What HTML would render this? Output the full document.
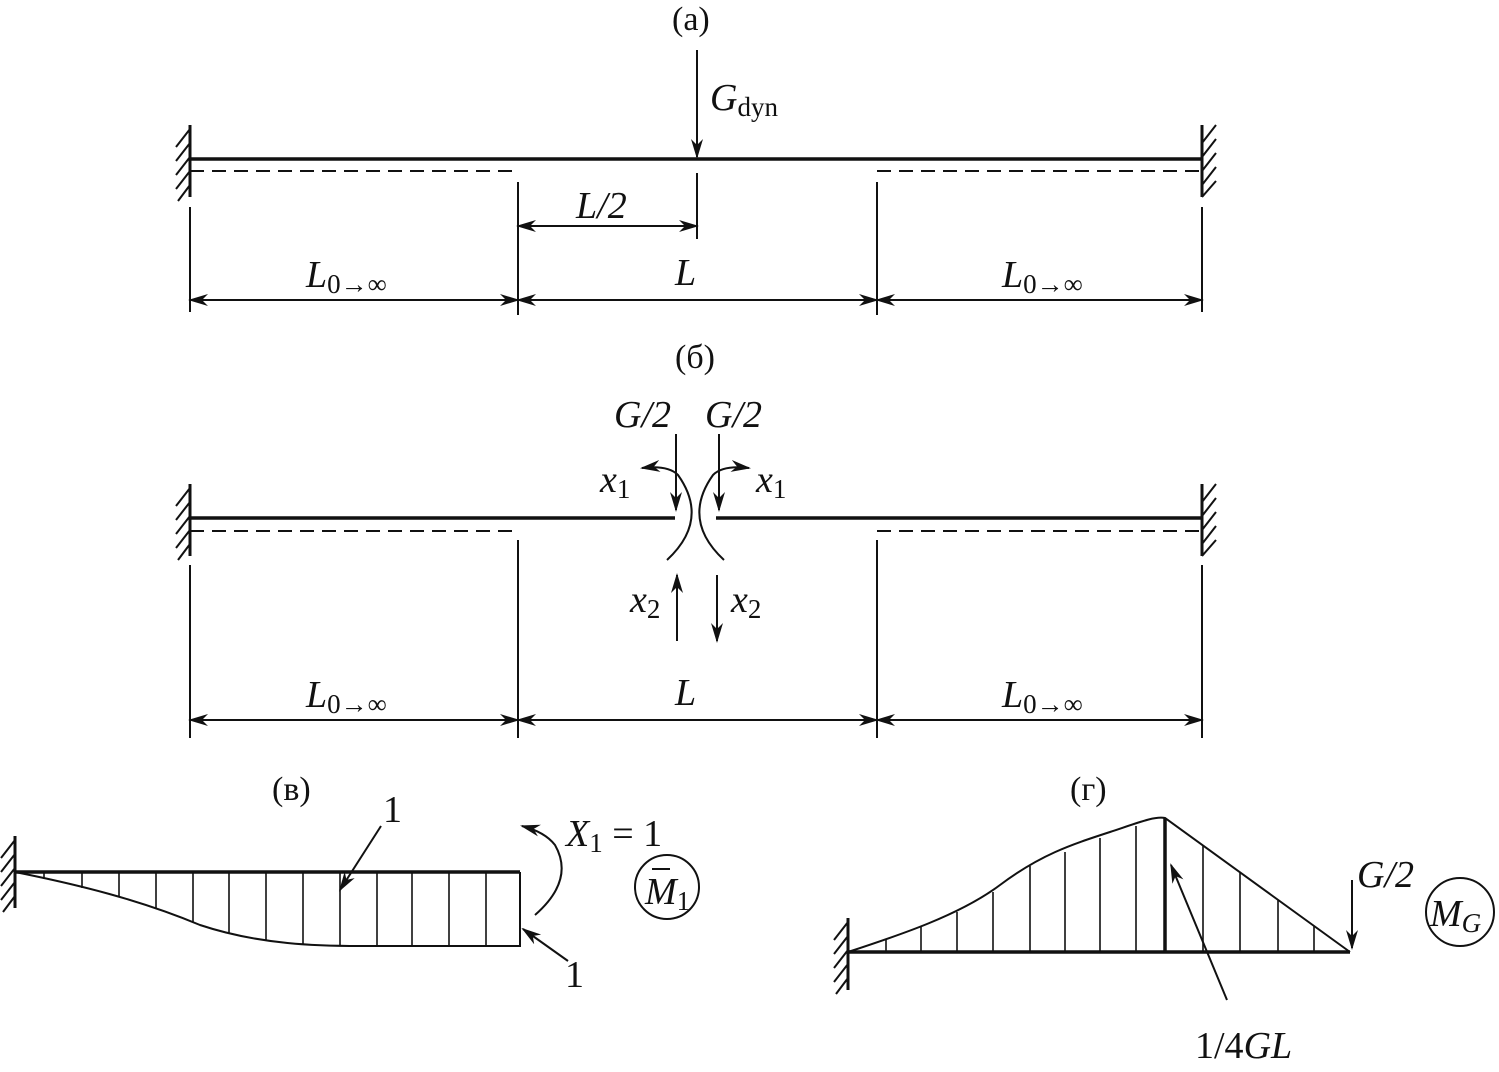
<!DOCTYPE html>
<html><head><style>body{margin:0;background:#fff}svg{display:block}
text{font-family:"Liberation Serif",serif;fill:#111}
.i{font-style:italic}</style></head><body>
<svg width="1499" height="1072" viewBox="0 0 1499 1072" xmlns="http://www.w3.org/2000/svg">
<defs>
<marker id="a" markerWidth="20" markerHeight="12" refX="18" refY="6" orient="auto-start-reverse" markerUnits="userSpaceOnUse"><path d="M0,0 L20,6 L0,12 L6,6 Z" fill="#111"/></marker>
<g id="wallL"><line x1="0" y1="0" x2="0" y2="72" stroke="#111" stroke-width="3"/>
<g stroke="#111" stroke-width="2"><line x1="0" y1="4" x2="-14" y2="22"/><line x1="0" y1="18" x2="-14" y2="36"/><line x1="0" y1="32" x2="-14" y2="50"/><line x1="0" y1="46" x2="-14" y2="64"/><line x1="0" y1="60" x2="-12" y2="76"/></g></g>
<g id="wallR"><line x1="0" y1="0" x2="0" y2="72" stroke="#111" stroke-width="3"/>
<g stroke="#111" stroke-width="2"><line x1="0" y1="18" x2="14" y2="0"/><line x1="0" y1="32" x2="14" y2="14"/><line x1="0" y1="46" x2="14" y2="28"/><line x1="0" y1="60" x2="14" y2="42"/><line x1="0" y1="72" x2="14" y2="56"/></g></g>
</defs>
<g stroke="#111" fill="none">
<use href="#wallL" x="190" y="125"/><use href="#wallR" x="1202" y="125"/>
<line x1="190" y1="159" x2="1202" y2="159" stroke-width="3.5"/>
<line x1="190" y1="171" x2="520" y2="171" stroke-width="2" stroke-dasharray="14,8"/>
<line x1="877" y1="171" x2="1202" y2="171" stroke-width="2" stroke-dasharray="14,8"/>
<line x1="697" y1="50" x2="697" y2="157" stroke-width="2" marker-end="url(#a)"/>
<line x1="697" y1="173" x2="697" y2="239" stroke-width="2"/>
<line x1="190" y1="207" x2="190" y2="312" stroke-width="2"/>
<line x1="518" y1="182" x2="518" y2="315" stroke-width="2"/>
<line x1="877" y1="182" x2="877" y2="315" stroke-width="2"/>
<line x1="1202" y1="207" x2="1202" y2="312" stroke-width="2"/>
<line x1="518" y1="226" x2="697" y2="226" stroke-width="2" marker-start="url(#a)" marker-end="url(#a)"/>
<line x1="190" y1="300" x2="518" y2="300" stroke-width="2" marker-start="url(#a)" marker-end="url(#a)"/>
<line x1="518" y1="300" x2="877" y2="300" stroke-width="2" marker-start="url(#a)" marker-end="url(#a)"/>
<line x1="877" y1="300" x2="1202" y2="300" stroke-width="2" marker-start="url(#a)" marker-end="url(#a)"/>
<use href="#wallL" x="190" y="484"/><use href="#wallR" x="1202" y="484"/>
<line x1="190" y1="518" x2="675" y2="518" stroke-width="3.5"/>
<line x1="716" y1="518" x2="1202" y2="518" stroke-width="3.5"/>
<line x1="190" y1="531" x2="520" y2="531" stroke-width="2" stroke-dasharray="14,8"/>
<line x1="877" y1="531" x2="1202" y2="531" stroke-width="2" stroke-dasharray="14,8"/>
<line x1="676" y1="434" x2="676" y2="510" stroke-width="2" marker-end="url(#a)"/>
<line x1="719" y1="434" x2="719" y2="510" stroke-width="2" marker-end="url(#a)"/>
<path d="M667,560 Q710,520 678,475 Q668,465 642,468" stroke-width="2" marker-end="url(#a)"/>
<path d="M724,560 Q681,520 713,475 Q723,465 749,468" stroke-width="2" marker-end="url(#a)"/>
<line x1="677" y1="641" x2="677" y2="575" stroke-width="2" marker-end="url(#a)"/>
<line x1="717" y1="575" x2="717" y2="641" stroke-width="2" marker-end="url(#a)"/>
<line x1="190" y1="565" x2="190" y2="738" stroke-width="2"/>
<line x1="518" y1="540" x2="518" y2="738" stroke-width="2"/>
<line x1="877" y1="540" x2="877" y2="738" stroke-width="2"/>
<line x1="1202" y1="565" x2="1202" y2="738" stroke-width="2"/>
<line x1="190" y1="720" x2="518" y2="720" stroke-width="2" marker-start="url(#a)" marker-end="url(#a)"/>
<line x1="518" y1="720" x2="877" y2="720" stroke-width="2" marker-start="url(#a)" marker-end="url(#a)"/>
<line x1="877" y1="720" x2="1202" y2="720" stroke-width="2" marker-start="url(#a)" marker-end="url(#a)"/>
<use href="#wallL" x="15" y="836"/>
<line x1="15" y1="872" x2="520" y2="872" stroke-width="3.5"/>
<path d="M15,872 C80,885 140,900 200,925 C260,945 320,946 360,946 L520,946 L520,872" stroke-width="2"/>
<g stroke-width="1.6">
<line x1="44" y1="872" x2="44" y2="879"/><line x1="82" y1="872" x2="82" y2="888"/><line x1="119" y1="872" x2="119" y2="897"/>
<line x1="156" y1="872" x2="156" y2="908"/><line x1="193" y1="872" x2="193" y2="922"/><line x1="229" y1="872" x2="229" y2="933"/>
<line x1="266" y1="872" x2="266" y2="940"/><line x1="303" y1="872" x2="303" y2="944"/><line x1="340" y1="872" x2="340" y2="946"/>
<line x1="377" y1="872" x2="377" y2="946"/><line x1="412" y1="872" x2="412" y2="946"/><line x1="449" y1="872" x2="449" y2="946"/><line x1="486" y1="872" x2="486" y2="946"/></g>
<line x1="381" y1="826" x2="340" y2="890" stroke-width="2" marker-end="url(#a)"/>
<line x1="568" y1="961" x2="523" y2="929" stroke-width="2" marker-end="url(#a)"/>
<path d="M535,915 Q575,880 555,845 Q545,832 522,826" stroke-width="2" marker-end="url(#a)"/>
<circle cx="667" cy="887" r="32" stroke-width="2"/>
<use href="#wallL" x="848" y="918"/>
<line x1="848" y1="952" x2="1350" y2="952" stroke-width="3.5"/>
<path d="M848,952 C900,935 960,915 1000,885 C1040,855 1070,845 1110,832 C1140,822 1155,816 1165,818 L1350,952" stroke-width="2"/>
<line x1="1165" y1="818" x2="1165" y2="952" stroke-width="3.5"/>
<g stroke-width="1.6">
<line x1="886" y1="952" x2="886" y2="939"/><line x1="921" y1="952" x2="921" y2="927"/><line x1="957" y1="952" x2="957" y2="912"/>
<line x1="993" y1="952" x2="993" y2="892"/><line x1="1030" y1="952" x2="1030" y2="866"/><line x1="1065" y1="952" x2="1065" y2="852"/>
<line x1="1100" y1="952" x2="1100" y2="838"/><line x1="1136" y1="952" x2="1136" y2="826"/>
<line x1="1203" y1="952" x2="1203" y2="846"/><line x1="1240" y1="952" x2="1240" y2="873"/><line x1="1278" y1="952" x2="1278" y2="900"/><line x1="1314" y1="952" x2="1314" y2="926"/></g>
<line x1="1227" y1="1000" x2="1171" y2="865" stroke-width="2" marker-end="url(#a)"/>
<line x1="1352" y1="880" x2="1352" y2="948" stroke-width="2" marker-end="url(#a)"/>
<circle cx="1460" cy="912" r="34" stroke-width="2"/>
</g>
<g font-size="34">
<text x="672" y="30">(a)</text>
<text x="710" y="110" class="i" font-size="38">G<tspan font-style="normal" font-size="27" dy="6">dyn</tspan></text>
<text x="576" y="218" class="i" font-size="38">L/2</text>
<text x="306" y="287" class="i" font-size="38">L<tspan font-style="normal" font-size="27" dy="6">0→∞</tspan></text>
<text x="675" y="285" class="i" font-size="38">L</text>
<text x="1002" y="287" class="i" font-size="38">L<tspan font-style="normal" font-size="27" dy="6">0→∞</tspan></text>
<text x="675" y="368">(б)</text>
<text x="614" y="427" class="i" font-size="38">G/2</text>
<text x="705" y="427" class="i" font-size="38">G/2</text>
<text x="600" y="492" class="i" font-size="38">x<tspan font-style="normal" font-size="27" dy="6">1</tspan></text>
<text x="756" y="492" class="i" font-size="38">x<tspan font-style="normal" font-size="27" dy="6">1</tspan></text>
<text x="630" y="612" class="i" font-size="38">x<tspan font-style="normal" font-size="27" dy="6">2</tspan></text>
<text x="731" y="612" class="i" font-size="38">x<tspan font-style="normal" font-size="27" dy="6">2</tspan></text>
<text x="306" y="707" class="i" font-size="38">L<tspan font-style="normal" font-size="27" dy="6">0→∞</tspan></text>
<text x="675" y="705" class="i" font-size="38">L</text>
<text x="1002" y="707" class="i" font-size="38">L<tspan font-style="normal" font-size="27" dy="6">0→∞</tspan></text>
<text x="272" y="800">(в)</text>
<text x="383" y="822" font-size="38">1</text>
<text x="565" y="987" font-size="38">1</text>
<text x="566" y="846" class="i" font-size="38">X<tspan font-style="normal" font-size="27" dy="6">1</tspan><tspan font-style="normal" dy="-6"> = 1</tspan></text>
<text x="645" y="904" class="i" font-size="38">M<tspan font-style="normal" font-size="27" dy="6">1</tspan></text>
<line x1="652" y1="869" x2="670" y2="869" stroke="#111" stroke-width="2"/>
<text x="1070" y="800">(г)</text>
<text x="1357" y="887" class="i" font-size="38">G/2</text>
<text x="1430" y="926" class="i" font-size="38">M<tspan font-size="27" dy="6">G</tspan></text>
<text x="1195" y="1058" font-size="38">1/4<tspan class="i">GL</tspan></text>
</g>
</svg>
</body></html>
